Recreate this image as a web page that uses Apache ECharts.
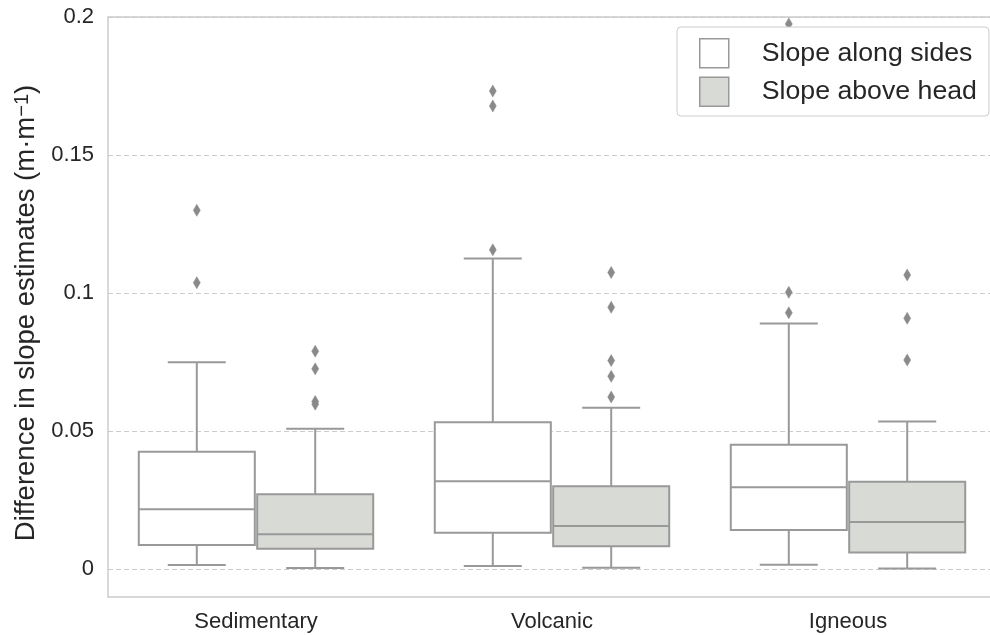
<!DOCTYPE html>
<html>
<head>
<meta charset="utf-8">
<script src="https://cdn.jsdelivr.net/npm/echarts@6/dist/echarts.min.js"></script>
<style>
  html, body { margin: 0; padding: 0; background: #ffffff; }
  #chart { width: 990px; height: 635px; }
</style>
</head>
<body>
<div id="chart"></div>
<script>
// Rock types along the x axis
const categories = ['Sedimentary', 'Volcanic', 'Igneous'];
const seriesNames = ['Slope along sides', 'Slope above head'];

// Box statistics per rock type: [lower whisker, Q1, median, Q3, upper whisker]
const sidesBoxes = [
  [0.0016, 0.0088, 0.0218, 0.0426, 0.0750],
  [0.0012, 0.0133, 0.0319, 0.0533, 0.1126],
  [0.0017, 0.0143, 0.0297, 0.0451, 0.0890]
];
const headBoxes = [
  [0.0005, 0.0075, 0.0127, 0.0272, 0.0509],
  [0.0006, 0.0084, 0.0157, 0.0301, 0.0585],
  [0.0003, 0.0061, 0.0172, 0.0317, 0.0535]
];

// Outlying values per rock type
const sidesOutliers = [
  [0.1300, 0.1038],
  [0.1732, 0.1678, 0.1157],
  [0.1975, 0.1003, 0.0929]
];
const headOutliers = [
  [0.0790, 0.0726, 0.0608, 0.0598],
  [0.1075, 0.0949, 0.0756, 0.0699, 0.0624],
  [0.1066, 0.0909, 0.0758]
];

// Labelled y values
const yTicks = [0, 0.05, 0.1, 0.15, 0.2];

const FONT = '"Liberation Sans", Arial, Helvetica, sans-serif';
const TEXT = '#262626';
const EDGE = '#999999';
const SPINE = '#cccccc';
const FILLS = ['#ffffff', '#d8dad6'];
const SHIFTS = [-0.2, 0.2];   // box centre offset, as a fraction of the category band
const BOX_FRAC = 0.392;       // box width, as a fraction of the category band

function boxRenderer(shift, fill) {
  return function (params, api) {
    const cat = api.value(0);
    const band = api.size([1, 0])[0];
    const cx = api.coord([cat, 0])[0] + shift * band;
    const half = band * BOX_FRAC / 2;
    const capHalf = half / 2;
    const y = (i) => api.coord([cat, api.value(i)])[1];
    const yLo = y(1), yQ1 = y(2), yMed = y(3), yQ3 = y(4), yHi = y(5);
    const line = { stroke: EDGE, lineWidth: 2 };
    return {
      type: 'group',
      children: [
        { type: 'line', shape: { x1: cx, y1: yQ1, x2: cx, y2: yLo }, style: line },
        { type: 'line', shape: { x1: cx, y1: yQ3, x2: cx, y2: yHi }, style: line },
        { type: 'line', shape: { x1: cx - capHalf, y1: yLo, x2: cx + capHalf, y2: yLo }, style: line },
        { type: 'line', shape: { x1: cx - capHalf, y1: yHi, x2: cx + capHalf, y2: yHi }, style: line },
        { type: 'rect', shape: { x: cx - half, y: yQ3, width: 2 * half, height: yQ1 - yQ3 },
          style: { fill: fill, stroke: EDGE, lineWidth: 2 } },
        { type: 'line', shape: { x1: cx - half, y1: yMed, x2: cx + half, y2: yMed }, style: line }
      ]
    };
  };
}

function outlierRenderer(shift) {
  return function (params, api) {
    const cat = api.value(0);
    const band = api.size([1, 0])[0];
    const p = api.coord([cat, api.value(1)]);
    const cx = p[0] + shift * band;
    const cy = p[1];
    const w = 3.5, h = 6;
    return {
      type: 'polygon',
      shape: { points: [[cx, cy - h], [cx + w, cy], [cx, cy + h], [cx - w, cy]] },
      style: { fill: '#8a8a8a', stroke: '#8a8a8a', lineWidth: 0.5 }
    };
  };
}

function boxData(boxes) {
  return boxes.map((b, i) => [i].concat(b));
}
function outlierData(groups) {
  const out = [];
  groups.forEach((vals, i) => vals.forEach((v) => out.push([i, v])));
  return out;
}

const chart = echarts.init(document.getElementById('chart'), null, { renderer: 'canvas' });

chart.setOption({
  backgroundColor: '#ffffff',
  animation: false,
  textStyle: { fontFamily: FONT },
  grid: { left: 108, top: 17, width: 888, bottom: 38, outerBoundsMode: 'none', containLabel: false },
  legend: {
    orient: 'vertical',
    left: 677,
    top: 27,
    padding: [11, 12, 9, 22],
    itemGap: 8,
    itemWidth: 29,
    itemHeight: 29,
    backgroundColor: '#ffffff',
    borderColor: SPINE,
    borderWidth: 1,
    borderRadius: 4,
    selectedMode: false,
    textStyle: { fontSize: 26.7, color: TEXT, fontFamily: FONT, padding: [0, 0, 0, 28] },
    data: [
      { name: seriesNames[0], icon: 'rect', itemStyle: { color: FILLS[0], borderColor: EDGE, borderWidth: 1.5 } },
      { name: seriesNames[1], icon: 'rect', itemStyle: { color: FILLS[1], borderColor: EDGE, borderWidth: 1.5 } }
    ]
  },
  xAxis: [
    {
      type: 'category',
      data: categories,
      boundaryGap: true,
      axisLine: { show: true, onZero: false, lineStyle: { color: SPINE, width: 1.5 } },
      axisTick: { show: false },
      axisLabel: { fontSize: 22, color: TEXT, fontFamily: FONT, margin: 14 },
      splitLine: { show: false }
    },
    {
      type: 'category',
      data: categories,
      position: 'top',
      axisLine: { show: true, onZero: false, lineStyle: { color: SPINE, width: 1.5 } },
      axisTick: { show: false },
      axisLabel: { show: false },
      splitLine: { show: false }
    }
  ],
  yAxis: {
    type: 'value',
    min: -0.01,
    max: 0.2,
    name: 'Difference in slope estimates (m·m{s|−1})',
    nameLocation: 'middle',
    nameRotate: 90,
    nameGap: 66,
    nameTextStyle: {
      fontSize: 27.5,
      color: TEXT,
      fontFamily: FONT,
      padding: [0, 12, 0, 0],
      rich: { s: { fontSize: 20, color: TEXT, fontFamily: FONT, verticalAlign: 'top' } }
    },
    axisLine: { show: true, lineStyle: { color: SPINE, width: 1.5 } },
    axisTick: { show: false, customValues: yTicks },
    axisLabel: { customValues: yTicks, fontSize: 22, color: TEXT, fontFamily: FONT, margin: 14 },
    splitLine: { show: true, lineStyle: { color: SPINE, type: [5, 3], width: 1 } }
  },
  series: [
    {
      name: seriesNames[0], type: 'custom', xAxisIndex: 0,
      renderItem: boxRenderer(SHIFTS[0], FILLS[0]),
      encode: { x: 0, y: [1, 2, 3, 4, 5] },
      itemStyle: { color: FILLS[0] },
      data: boxData(sidesBoxes), z: 2
    },
    {
      name: seriesNames[1], type: 'custom', xAxisIndex: 0,
      renderItem: boxRenderer(SHIFTS[1], FILLS[1]),
      encode: { x: 0, y: [1, 2, 3, 4, 5] },
      itemStyle: { color: FILLS[1] },
      data: boxData(headBoxes), z: 2
    },
    {
      name: seriesNames[0] + ' outliers', type: 'custom', xAxisIndex: 0,
      renderItem: outlierRenderer(SHIFTS[0]),
      encode: { x: 0, y: 1 },
      data: outlierData(sidesOutliers), z: 3
    },
    {
      name: seriesNames[1] + ' outliers', type: 'custom', xAxisIndex: 0,
      renderItem: outlierRenderer(SHIFTS[1]),
      encode: { x: 0, y: 1 },
      data: outlierData(headOutliers), z: 3
    }
  ]
});
</script>
</body>
</html>
